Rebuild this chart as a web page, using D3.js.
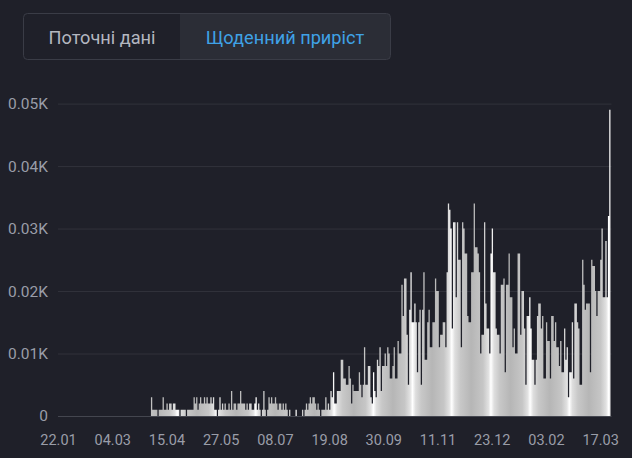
<!DOCTYPE html>
<html>
<head>
<meta charset="utf-8">
<script src="https://cdn.jsdelivr.net/npm/d3@7"></script>
<style>
  html, body { margin: 0; padding: 0; background: #1f2029; }
  svg { display: block; }
</style>
</head>
<body>
<svg id="chart" width="632" height="458"></svg>
<script>
// daily increment, one value per day starting 22.01.2020
var startDate = "2020-01-22";

var quietWeeks = [
    0,0,0,0,0,0,0,0,0,0, 0,0,0,0,0,0,0,0,0,0, 0,0,0,0,0,0,0,0,0,0,
    0,0,0,0,0,0,0,0,0,0, 0,0,0,0,0,0,0,0,0,0, 0,0,0,0,0,0,0,0,0,0,
    0,0,0,0,0,0,0,0,0,0, 0,0
];

var firstWave = [
    3, 1,1,1,1,0,1,1,1, 3, 1,1,2,1, 2,2,1,2,2,
    1,1,1,0,1,1,1,1,0,1,1,1,1,1, 3,2,3,1,
    2,3,2,2,3,2,3,2,2,3,2,3, 1,1,0,1, 3,1,2, 1,2,1,1,2,1,
    4,1,2, 2,1,2,2, 4,2, 2,2,1,2,1,2,2,1,1,2, 3,1,2, 1,0,1, 4, 1,0,1,
    3,2,3,2,2,3,2,1,2,2,1,2, 1,2,1,0,1, 0,0,0,0,1, 0,0,0,0, 1,0,1,
    2,1,2,3,2,3,3,2,1,2, 1,0,1,1, 1,3,1,2,1,
    4,3,7,2,2,4
];

var autumnWave = [
    4,4,9,9,6,6,5,5,8,6,2,5,4,4,4,4,7,5,3,5,11,5,5,8,8,3,2,7,4,3,
    9,8,11,4,8,8,10,8,11,10,6,6,8,11,6,6,12,10,10,
    21,16,22,
    22,13,5,17,23,15,15,18,15,7,15,17,5,17,23,9,9,15,17,11,
    11,15,15,22,20,20,11,13,13,15,15,11,23,34,33,30,14,31,31,19,
    31,25,25,11,31,30,26,26,16,15,15,23,23,34,27,27,26
];

var winterSpring = [
    23,10,13,13,31,18,14,14,10,26, 30,23,23,14,13,13,10,21,21,22,
    7,21,21,26,19,19,11,14,10,10, 26,26,13,20,20,14,5,16,16,19,
    14,9,9,5,9,16,18,18,14,16, 6,6,15,12,12,6,16,16,12,15,
    11,11,8,12,7,7,14,9,11,3, 7,7,15,6,18,18,15,14,5,5,
    25,21,17,18,18,18,7,25,24,24, 20,16,20,20,25,30,19,19,28,19,
    32,49
];

var yTicks = [0, 10, 20, 30, 40, 50];
var yTickLabels = ["0", "0.01K", "0.02K", "0.03K", "0.04K", "0.05K"];
var xTickDates = ["2020-01-22", "2020-03-04", "2020-04-15", "2020-05-27", "2020-07-08", "2020-08-19",
    "2020-09-30", "2020-11-11", "2020-12-23", "2021-02-03", "2021-03-17"];
var tabLabels = ["Поточні дані", "Щоденний приріст"];

(function () {
    var svg = d3.select("#chart"),
        parse = d3.utcParse("%Y-%m-%d"),
        fmt = d3.utcFormat("%d.%m"),
        start = parse(startDate);

    var values = quietWeeks.concat(firstWave, autumnWave, winterSpring);
    var data = values.map(function (v, i) {
        return {date: d3.utcDay.offset(start, i), value: v};
    });
    // closing point so the last day gets its full width
    var steps = data.concat([{date: d3.utcDay.offset(start, data.length), value: values[values.length - 1]}]);

    var left = 58, right = 610.5, top = 103.6, bottom = 416;

    var x = d3.scaleUtc()
        .domain([start, d3.utcDay.offset(start, data.length)])
        .range([left, right]);
    var y = d3.scaleLinear().domain([0, 50]).range([bottom, top]);

    // tabs
    var tabs = svg.append("g");
    tabs.append("rect")
        .attr("x", 180).attr("y", 14).attr("width", 210).attr("height", 45)
        .attr("fill", "#2b2d36");
    tabs.append("rect")
        .attr("x", 23.5).attr("y", 13.5).attr("width", 367).attr("height", 46)
        .attr("rx", 4)
        .attr("fill", "none").attr("stroke", "#3a3c46");
    tabs.selectAll("text")
        .data(tabLabels)
        .enter().append("text")
        .attr("x", function (d, i) { return i ? 285 : 102; })
        .attr("y", 43.5)
        .attr("text-anchor", "middle")
        .attr("font-family", "Roboto, sans-serif")
        .attr("font-size", 18.2)
        .attr("fill", function (d, i) { return i ? "#3fa2e6" : "#b4b7c0"; })
        .text(function (d) { return d; });

    // silvery banding of the columns, repeats every ~39px
    var grad = svg.append("defs").append("linearGradient")
        .attr("id", "barFill")
        .attr("gradientUnits", "userSpaceOnUse")
        .attr("spreadMethod", "repeat")
        .attr("x1", 353.7).attr("x2", 392.9).attr("y1", 0).attr("y2", 0);
    [[0, "#b6b6b6"], [0.3, "#c6c6c6"], [0.44, "#e2e2e2"], [0.5, "#ffffff"],
        [0.58, "#dedede"], [0.72, "#c8c8c8"], [1, "#b6b6b6"]].forEach(function (s) {
        grad.append("stop").attr("offset", s[0]).attr("stop-color", s[1]);
    });

    // y axis + grid
    var yAxis = svg.append("g")
        .attr("transform", "translate(" + left + ",0)")
        .call(d3.axisLeft(y)
            .tickValues(yTicks)
            .tickSize(-(right + 1 - left))
            .tickPadding(10)
            .tickFormat(function (d, i) { return yTickLabels[i]; }));
    yAxis.select(".domain").remove();
    yAxis.selectAll("line").attr("stroke", function (d) {
        return d === 0 ? "#44464f" : "#31323b";
    });
    yAxis.selectAll("text")
        .attr("fill", "#9a9da8")
        .attr("font-family", "Roboto, sans-serif")
        .attr("font-size", 15.5);

    // columns drawn as one stepped shape so neighbours join without seams
    var columns = d3.area()
        .curve(d3.curveStepAfter)
        .x(function (d) { return x(d.date); })
        .y0(y(0))
        .y1(function (d) { return y(d.value); });

    svg.append("path")
        .datum(steps)
        .attr("d", columns)
        .attr("fill", "url(#barFill)");

    // x axis
    var xAxis = svg.append("g")
        .attr("transform", "translate(0," + bottom + ")")
        .call(d3.axisBottom(x)
            .tickValues(xTickDates.map(parse))
            .tickSize(0)
            .tickPadding(19)
            .tickFormat(fmt));
    xAxis.select(".domain").remove();
    xAxis.selectAll("text")
        .attr("fill", "#9a9da8")
        .attr("font-family", "Roboto, sans-serif")
        .attr("font-size", 14.5);
}());
</script>
</body>
</html>
